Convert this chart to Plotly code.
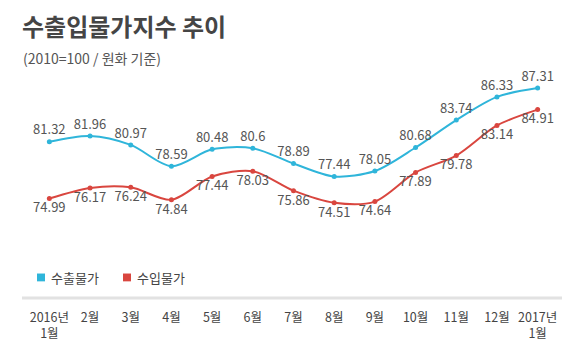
import plotly.graph_objects as go

months = ["2016년<br>1월", "2월", "3월", "4월", "5월", "6월", "7월", "8월", "9월", "10월", "11월", "12월", "2017년<br>1월"]
export_idx = [81.32, 81.96, 80.97, 78.59, 80.48, 80.6, 78.89, 77.44, 78.05, 80.68, 83.74, 86.33, 87.31]
import_idx = [74.99, 76.17, 76.24, 74.84, 77.44, 78.03, 75.86, 74.51, 74.64, 77.89, 79.78, 83.14, 84.91]
series_names = ["수출물가", "수입물가"]

CYAN = "#2fb5da"
RED = "#d9463f"
FONT = "Noto Sans CJK KR"
x = list(range(len(months)))

L, R, T, B = 29, 15, 64, 51
PW, PH = 573 - L - R, 354 - T - B


def px(xp):
    return (xp - L) / PW


def py(yp):
    return (354 - B - yp) / PH


fig = go.Figure()
fig.add_trace(go.Scatter(
    x=x, y=export_idx, mode="lines+markers+text", name=series_names[0],
    line=dict(color=CYAN, width=2, shape="spline", smoothing=0.85),
    marker=dict(color=CYAN, size=5),
    text=[f"{v:g}" for v in export_idx], textposition="top center",
    textfont=dict(family=FONT, size=13, color="#555555"),
    showlegend=False, cliponaxis=False,
))
fig.add_trace(go.Scatter(
    x=x, y=import_idx, mode="lines+markers+text", name=series_names[1],
    line=dict(color=RED, width=2, shape="spline", smoothing=0.85),
    marker=dict(color=RED, size=5),
    text=[f"{v:g}" for v in import_idx], textposition="bottom center",
    textfont=dict(family=FONT, size=13, color="#555555"),
    showlegend=False, cliponaxis=False,
))

shapes = [dict(
    type="line", xref="paper", yref="paper",
    x0=px(22), x1=px(562), y0=py(303), y1=py(303),
    line=dict(color="#e2e2e2", width=3),
)]
annotations = [
    dict(text="<b>수출입물가지수 추이</b>", xref="paper", yref="paper",
         x=px(20), y=py(25), xanchor="left", yanchor="middle",
         showarrow=False, font=dict(family=FONT, size=24, color="#454545")),
    dict(text="(2010=100 / 원화 기준)", xref="paper", yref="paper",
         x=px(21), y=py(58), xanchor="left", yanchor="middle",
         showarrow=False, font=dict(family=FONT, size=14, color="#555555")),
]
# legend: square + label
for name, c, sx in zip(series_names, [CYAN, RED], [37, 123]):
    shapes.append(dict(type="rect", xref="paper", yref="paper",
                       x0=px(sx), x1=px(sx + 8), y0=py(286), y1=py(278),
                       fillcolor=c, line=dict(width=0)))
    annotations.append(dict(text=name, xref="paper", yref="paper",
                            x=px(sx + 12), y=py(282), xanchor="left", yanchor="middle",
                            showarrow=False, font=dict(family=FONT, size=13, color="#444444")))

fig.update_layout(
    width=573, height=354,
    margin=dict(l=L, r=R, t=T, b=B),
    paper_bgcolor="white", plot_bgcolor="white",
    font=dict(family=FONT, color="#444444"),
    xaxis=dict(
        range=[-0.5, 12.5], tickmode="array", tickvals=x, ticktext=months,
        showgrid=False, zeroline=False, showline=False, ticks="",
        tickfont=dict(family=FONT, size=12.5, color="#444444"),
        ticklabelstandoff=10,
    ),
    yaxis=dict(range=[63.88, 90], visible=False, showgrid=False),
    showlegend=False,
    shapes=shapes,
    annotations=annotations,
)

fig.write_html("out.html")
